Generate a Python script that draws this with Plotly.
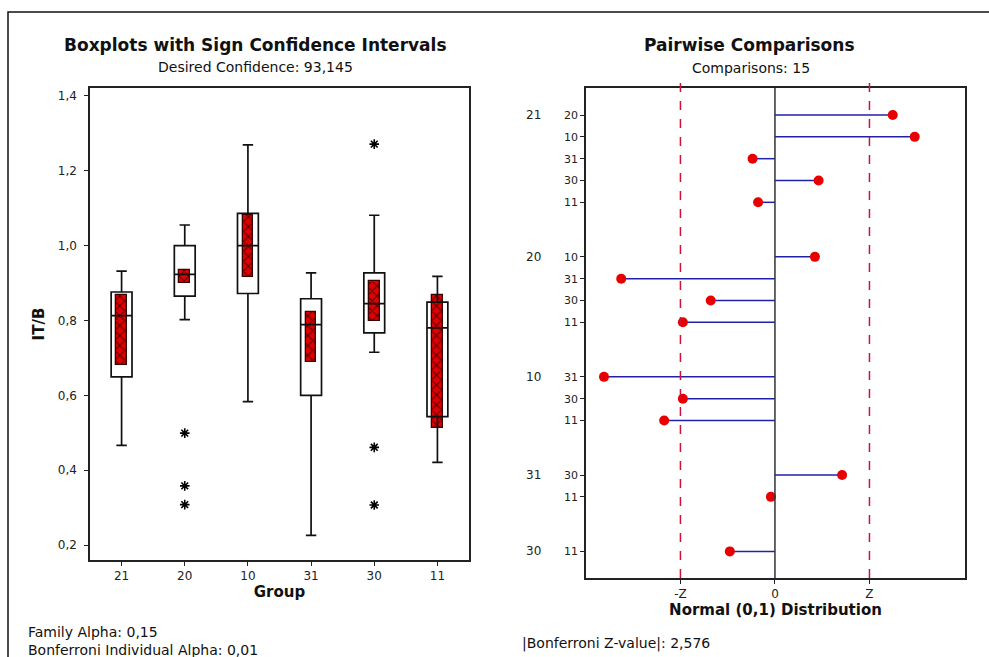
import plotly.graph_objects as go

# ---------------- data (left panel) ----------------
groups = ["21", "20", "10", "31", "30", "11"]
q1 = [0.649, 0.865, 0.872, 0.600, 0.767, 0.543]
median = [0.813, 0.923, 1.000, 0.789, 0.845, 0.780]
q3 = [0.876, 1.000, 1.086, 0.858, 0.927, 0.849]
whisker_low = [0.466, 0.802, 0.583, 0.226, 0.715, 0.421]
whisker_high = [0.932, 1.055, 1.269, 0.927, 1.081, 0.918]
ci_low = [0.680, 0.899, 0.916, 0.689, 0.798, 0.512]
ci_high = [0.867, 0.936, 1.082, 0.823, 0.905, 0.867]
outlier_group = ["20", "20", "20", "30", "30", "30"]
outlier_value = [0.499, 0.358, 0.308, 1.271, 0.461, 0.307]
y_ticks = [0.2, 0.4, 0.6, 0.8, 1.0, 1.2, 1.4]

# ---------------- data (right panel) ----------------
pair_first = ["21"] * 5 + ["20"] * 4 + ["10"] * 3 + ["31"] * 2 + ["30"]
pair_second = ["20", "10", "31", "30", "11",
               "10", "31", "30", "11",
               "31", "30", "11",
               "30", "11",
               "11"]
z_value = [3.21, 3.81, -0.61, 1.19, -0.46,
           1.09, -4.19, -1.75, -2.51,
           -4.66, -2.51, -3.02,
           1.83, -0.11,
           -1.23]
z_crit = 2.576

# row positions: consecutive rows 1 apart, extra gap between groups
pos = []
p = 0.0
prev = None
for g in pair_first:
    if prev is not None:
        p += 1.0 if g == prev else 2.5
    pos.append(p)
    prev = g

W, H = 989, 657
FONT = "DejaVu Sans"

fig = go.Figure()

# CI bars (sign confidence intervals)
fig.add_trace(go.Bar(
    x=groups,
    y=[h - l for h, l in zip(ci_high, ci_low)],
    base=ci_low,
    width=0.17,
    marker=dict(color="#e00000",
                line=dict(color="#3a0000", width=1.3),
                pattern=dict(shape="x", fgcolor="#5a0000", bgcolor="#e00000",
                             size=7, solidity=0.3, fillmode="replace")),
    xaxis="x", yaxis="y", showlegend=False, hoverinfo="skip",
))

# Boxplots
fig.add_trace(go.Box(
    x=groups, q1=q1, median=median, q3=q3,
    lowerfence=whisker_low, upperfence=whisker_high,
    boxpoints=False, width=0.33,
    fillcolor="rgba(0,0,0,0)",
    line=dict(color="#111111", width=1.7),
    xaxis="x", yaxis="y", showlegend=False,
))

# Outliers
fig.add_trace(go.Scatter(
    x=outlier_group, y=outlier_value, mode="markers",
    marker=dict(symbol="asterisk-open", size=8, color="black",
                line=dict(color="black", width=1.6)),
    xaxis="x", yaxis="y", showlegend=False,
))

# Pairwise comparison stems
lx, ly = [], []
for z, yy in zip(z_value, pos):
    lx += [0, z, None]
    ly += [yy, yy, None]
fig.add_trace(go.Scatter(
    x=lx, y=ly, mode="lines",
    line=dict(color="#2020a8", width=1.5),
    xaxis="x2", yaxis="y2", showlegend=False, hoverinfo="skip",
))
fig.add_trace(go.Scatter(
    x=z_value, y=pos, mode="markers",
    marker=dict(color="#e80000", size=10),
    xaxis="x2", yaxis="y2", showlegend=False,
))

# reference lines on the right panel
for xv, dash, col in [(-z_crit, "dash", "#d0103a"), (z_crit, "dash", "#d0103a"), (0, "solid", "#333333")]:
    fig.add_shape(type="line", xref="x2", yref="y2 domain",
                  x0=xv, x1=xv, y0=0, y1=1.012 if dash == "dash" else 1,
                  line=dict(color=col, width=1.5, dash=dash))

# group labels on the right panel
first_idx = {}
for i, g in enumerate(pair_first):
    first_idx.setdefault(g, i)
for g, i in first_idx.items():
    fig.add_annotation(x=533 / W, xref="paper", y=pos[i], yref="y2",
                       text=g, showarrow=False, xanchor="center",
                       font=dict(family=FONT, size=12, color="#222"))

# titles and notes
def note(text, x, y, size, bold=False, anchor="center"):
    fig.add_annotation(x=x / W, y=1 - y / H, xref="paper", yref="paper",
                       text=f"<b>{text}</b>" if bold else text,
                       showarrow=False, xanchor=anchor, yanchor="middle",
                       font=dict(family=FONT, size=size, color="#111"))

note("Boxplots with Sign Confidence Intervals", 255, 45, 17, bold=True)
note("Desired Confidence: 93,145", 255, 67, 14)
note("Pairwise Comparisons", 749, 45, 17, bold=True)
note("Comparisons: 15", 751, 68, 14)
note("Family Alpha: 0,15", 26, 632, 14, anchor="left")
note("Bonferroni Individual Alpha: 0,01", 26, 650, 14, anchor="left")
note("|Bonferroni Z-value|: 2,576", 520, 643, 14, anchor="left")

# outer frame
fig.add_shape(type="rect", xref="paper", yref="paper",
              x0=8 / W, x1=1.02, y0=-0.02, y1=1 - 12 / H,
              line=dict(color="#111", width=1.5), fillcolor="rgba(0,0,0,0)")

axis_common = dict(showgrid=False, zeroline=False, showline=True, mirror=True,
                   linecolor="#222", linewidth=1.5, ticks="outside", ticklen=4,
                   tickcolor="#222", tickfont=dict(family=FONT, size=12, color="#222"))

fig.update_layout(
    width=W, height=H,
    margin=dict(l=0, r=0, t=0, b=0),
    paper_bgcolor="white", plot_bgcolor="white",
    separators=",.",
    showlegend=False,
    xaxis=dict(domain=[90 / W, 469 / W], type="category", range=[-0.5, 5.5],
               categoryorder="array", categoryarray=groups,
               title=dict(text="<b>Group</b>", standoff=2,
                          font=dict(family=FONT, size=15, color="#111")),
               **axis_common),
    yaxis=dict(domain=[1 - 560 / H, 1 - 88 / H], range=[0.16, 1.421],
               tickvals=y_ticks, tickformat=".1f", ticklabelstandoff=5,
               title=dict(text="<b>IT/B</b>", standoff=10,
                          font=dict(family=FONT, size=15, color="#111")),
               **axis_common),
    xaxis2=dict(domain=[586 / W, 965 / W], range=[-5.15, 5.18], anchor="y2",
                tickvals=[-z_crit, 0, z_crit], ticktext=["-Z", "0", "Z"],
                title=dict(text="<b>Normal (0,1) Distribution</b>", standoff=2,
                           font=dict(family=FONT, size=15, color="#111")),
                **axis_common),
    yaxis2=dict(domain=[1 - 578 / H, 1 - 88 / H], anchor="x2",
                range=[21.22, -1.24],
                tickvals=pos, ticktext=pair_second,
                **{**axis_common, "tickfont": dict(family=FONT, size=11, color="#222")}),
    bargap=0,
)

fig.write_html("out.html",
               config={"displayModeBar": False},
               post_script="document.body.style.margin='0';document.body.style.overflow='hidden';")
